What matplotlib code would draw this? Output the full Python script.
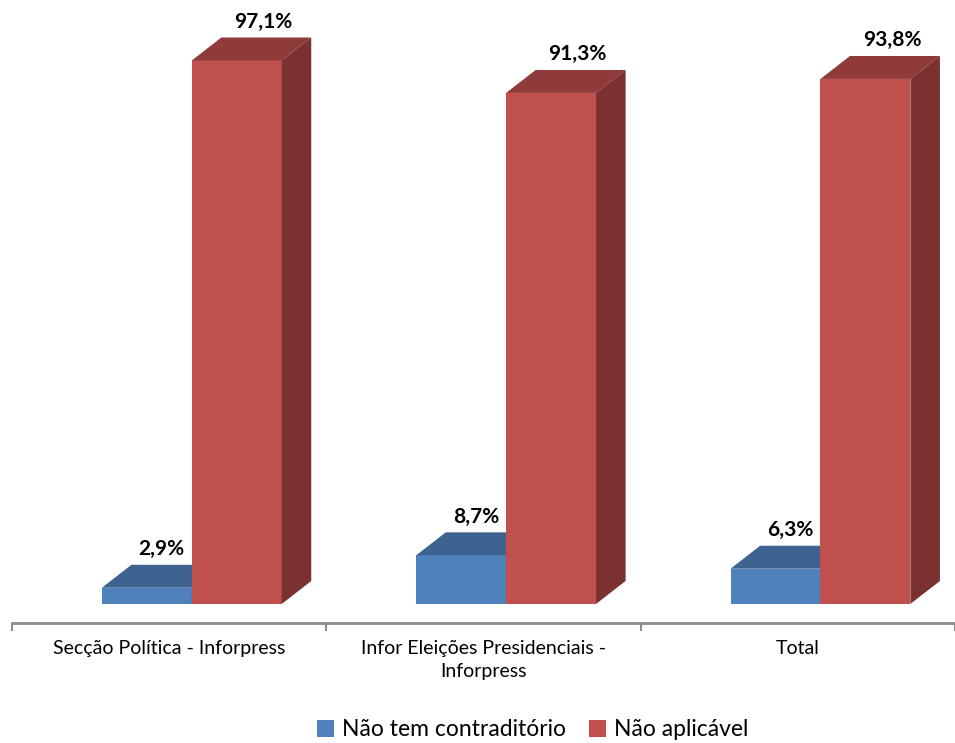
import matplotlib.pyplot as plt
from matplotlib.patches import Polygon, Patch

categories = ["Secção Política - Inforpress",
              "Infor Eleições Presidenciais -\nInforpress",
              "Total"]
series = ["Não tem contraditório", "Não aplicável"]
sem_contraditorio = [2.9, 8.7, 6.3]
nao_aplicavel = [97.1, 91.3, 93.8]

# front, top and side shades for each series
shades = {
    "blue": ("#4F81BD", "#3E6390", "#35557C"),
    "red": ("#C0504D", "#8E3B39", "#7B3130"),
}

plt.rcParams['font.family'] = ['Lato', 'DejaVu Sans']

fig = plt.figure(figsize=(9.55, 7.43), dpi=100)
ax = fig.add_axes([12 / 955, 1 - 623 / 743, 1 - 12 / 955, 623 / 743])
ax.set_xlim(-0.5, 2.465)
ax.set_ylim(-3.4, 107.9)

w = 0.286     # bar width in category units
dx = 0.094    # depth offset along x
dy = 4.1      # depth offset along y (percent units)
offsets = [-0.214, 0.072]
label_shift = [0.047, 0.085]


def bar3d(x0, v, colors):
    front, top, side = colors
    x1 = x0 + w
    ax.bar(x0, v, width=w, align='edge', color=front, linewidth=0, zorder=2)
    ax.add_patch(Polygon([(x0, v), (x0 + dx, v + dy), (x1 + dx, v + dy), (x1, v)],
                         closed=True, facecolor=top, linewidth=0, zorder=2))
    ax.add_patch(Polygon([(x1, 0), (x1 + dx, dy), (x1 + dx, v + dy), (x1, v)],
                         closed=True, facecolor=side, linewidth=0, zorder=2))


def label(x0, v, shift):
    ax.text(x0 + w / 2 + shift, v + dy + 2.8, f"{v:.1f}".replace('.', ',') + "%",
            ha='center', va='center', fontsize=15, fontweight='bold', zorder=3)


for i in range(len(categories)):
    xb = i + offsets[0]
    xr = i + offsets[1]
    bar3d(xb, sem_contraditorio[i], shades["blue"])
    bar3d(xr, nao_aplicavel[i], shades["red"])
    label(xb, sem_contraditorio[i], label_shift[0])
    label(xr, nao_aplicavel[i], label_shift[1])

# category axis
for s in ['top', 'right', 'left']:
    ax.spines[s].set_visible(False)
ax.spines['bottom'].set_color('#8C8C8C')
ax.spines['bottom'].set_linewidth(2)
ax.set_yticks([])
ax.set_xticks([-0.5, 0.5, 1.5, 2.5])
ax.set_xticklabels([])
ax.tick_params(axis='x', length=6, width=1.5, color='#8C8C8C')
ax.set_xticks(range(len(categories)), minor=True)
ax.set_xticklabels(categories, minor=True, fontsize=14, linespacing=1.45)
ax.tick_params(axis='x', which='minor', length=0, pad=12)
ax.patch.set_alpha(0)

handles = [Patch(facecolor=shades["blue"][0]), Patch(facecolor=shades["red"][0])]
fig.legend(handles, series, loc='center', bbox_to_anchor=(0.558, 1 - 730 / 743),
           ncol=2, frameon=False, fontsize=16.5, handlelength=0.75, handleheight=0.75,
           handletextpad=0.35, columnspacing=1.0)

fig.savefig("out.png", dpi=100)
